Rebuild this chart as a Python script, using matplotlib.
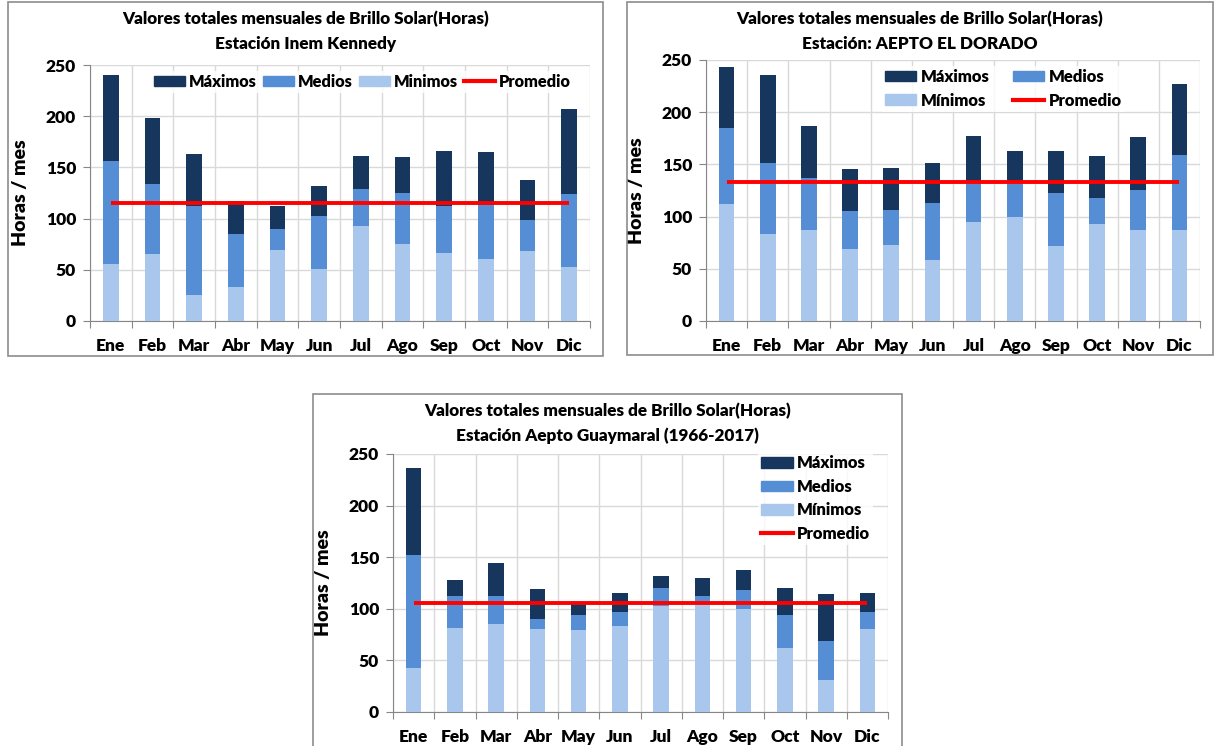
import matplotlib
matplotlib.use("Agg")
import matplotlib.pyplot as plt
from matplotlib.patches import Patch, Rectangle
from matplotlib.lines import Line2D
import numpy as np

plt.rcParams["font.family"] = ["Lato", "DejaVu Sans"]
plt.rcParams["font.weight"] = "heavy"
plt.rcParams["axes.labelweight"] = "heavy"

meses = ["Ene", "Feb", "Mar", "Abr", "May", "Jun", "Jul", "Ago", "Sep", "Oct", "Nov", "Dic"]

# Estación Inem Kennedy
kennedy_max = [240, 198, 163, 117, 112, 132, 161, 160, 166, 165, 138, 207]
kennedy_med = [156, 134, 112, 85, 90, 103, 129, 125, 112, 113, 99, 124]
kennedy_min = [56, 65, 25, 33, 69, 51, 93, 75, 66, 61, 68, 53]
kennedy_prom = 115

# Estación AEPTO EL DORADO
dorado_max = [243, 236, 187, 146, 147, 151, 177, 163, 163, 158, 176, 227]
dorado_med = [185, 151, 137, 105, 106, 113, 132, 132, 123, 118, 125, 159]
dorado_min = [112, 83, 87, 69, 73, 58, 95, 100, 72, 93, 87, 87]
dorado_prom = 133

# Estación Aepto Guaymaral (1966-2017)
guay_max = [236, 128, 144, 119, 105, 115, 132, 130, 138, 120, 114, 115]
guay_med = [152, 112, 112, 90, 94, 97, 120, 112, 118, 94, 69, 97]
guay_min = [43, 81, 85, 80, 79, 83, 103, 105, 100, 62, 31, 80]
guay_prom = 106

C_MAX = "#17365D"
C_MED = "#558ED5"
C_MIN = "#A9C6EC"
C_PROM = "#FF0000"
GRID = "#D9D9D9"
AXIS = "#868686"

W, H = 1215, 746
fig = plt.figure(figsize=(W / 100, H / 100), dpi=100)


def px_rect(x0, y0, x1, y1):
    # pixel box (top-left origin) -> figure fraction rect
    return [x0 / W, 1 - y1 / H, (x1 - x0) / W, (y1 - y0) / H]


def panel(box, axbox, title, vmax, vmed, vmin, prom, leg):
    bx = px_rect(*box)
    fig.add_artist(Rectangle((bx[0], bx[1]), bx[2], bx[3], transform=fig.transFigure,
                             fill=False, edgecolor="#8C8C8C", linewidth=1.2))
    ax = fig.add_axes(px_rect(*axbox))
    x = np.arange(len(meses))
    ax.bar(x, vmax, width=0.38, color=C_MAX, zorder=2)
    ax.bar(x, vmed, width=0.38, color=C_MED, zorder=3)
    ax.bar(x, vmin, width=0.38, color=C_MIN, zorder=4)
    ax.hlines(prom, x[0], x[-1], color=C_PROM, linewidth=2.8, zorder=5)

    ax.set_xlim(-0.5, len(meses) - 0.5)
    ax.set_ylim(0, 250)
    ax.set_yticks(range(0, 251, 50))
    ax.set_xticks(np.arange(-0.5, len(meses), 1.0))
    ax.set_xticklabels([])
    ax.set_xticks(x, minor=True)
    ax.set_xticklabels(meses, minor=True)
    ax.tick_params(axis="x", which="major", length=5, color=AXIS, direction="out")
    ax.tick_params(axis="x", which="minor", length=0, pad=12, labelsize=12.5)
    ax.tick_params(axis="y", length=5, color=AXIS, labelsize=12.5, pad=5)
    ax.grid(True, which="major", color=GRID, linewidth=1.0, zorder=0)
    ax.set_axisbelow(True)
    for s in ("top", "right"):
        ax.spines[s].set_visible(False)
    for s in ("left", "bottom"):
        ax.spines[s].set_color(AXIS)
    ax.set_ylabel("Horas / mes", fontsize=14, labelpad=12)

    cx = (box[0] + box[2]) / 2 / W
    fig.text(cx, 1 - (box[1] + 17) / H, title[0], ha="center", va="center", fontsize=12.3)
    fig.text(cx, 1 - (box[1] + 42) / H, title[1], ha="center", va="center", fontsize=12.3)

    h_max = Patch(color=C_MAX, label="Máximos")
    h_med = Patch(color=C_MED, label="Medios")
    h_min = Patch(color=C_MIN, label=leg["min_label"])
    h_prom = Line2D([0], [0], color=C_PROM, linewidth=3, label="Promedio")
    if leg["ncol"] == 2:
        handles = [h_max, h_min, h_med, h_prom]
    else:
        handles = [h_max, h_med, h_min, h_prom]
    lg = ax.legend(handles=handles, ncol=leg["ncol"], loc="upper right",
                   bbox_to_anchor=leg["anchor"], frameon=True, fontsize=leg.get("fs", 12),
                   handlelength=1.9, handleheight=0.6, handletextpad=0.25,
                   columnspacing=leg.get("colsp", 0.8), labelspacing=leg.get("labsp", 0.4),
                   borderpad=0.2, fancybox=False)
    lg.get_frame().set_edgecolor("none")
    lg.get_frame().set_facecolor("white")
    lg.set_zorder(6)
    return ax


panel((8, 2, 603, 356), (90, 65, 590, 321),
      ("Valores totales mensuales de Brillo Solar(Horas)", "Estación Inem Kennedy"),
      kennedy_max, kennedy_med, kennedy_min, kennedy_prom,
      {"ncol": 4, "anchor": (0.985, 1.01), "min_label": "Minimos", "colsp": 0.35, "fs": 11.8})

panel((627, 2, 1213, 355), (706, 60, 1200, 321),
      ("Valores totales mensuales de Brillo Solar(Horas)", "Estación: AEPTO EL DORADO"),
      dorado_max, dorado_med, dorado_min, dorado_prom,
      {"ncol": 2, "anchor": (0.865, 1.01), "min_label": "Mínimos", "colsp": 1.4, "labsp": 0.45})

panel((313, 394, 902, 760), (393, 454, 888, 712),
      ("Valores totales mensuales de Brillo Solar(Horas)", "Estación Aepto Guaymaral (1966-2017)"),
      guay_max, guay_med, guay_min, guay_prom,
      {"ncol": 1, "anchor": (0.987, 1.04), "min_label": "Mínimos", "labsp": 0.45})

fig.savefig("out.png", dpi=100)
